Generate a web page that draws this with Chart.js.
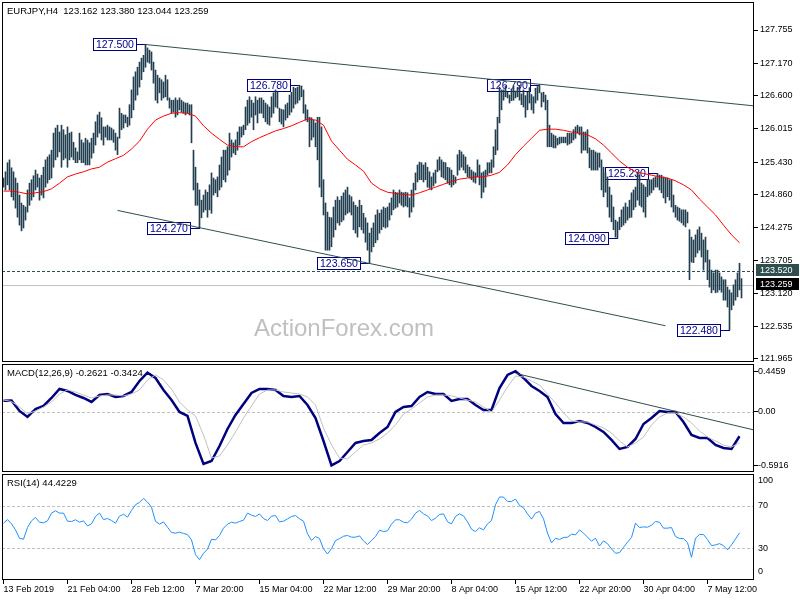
<!DOCTYPE html>
<html><head><meta charset="utf-8">
<script src="https://cdn.jsdelivr.net/npm/chart.js@4.4.1/dist/chart.umd.min.js"></script>
<style>
html,body{margin:0;padding:0;background:#fff;}
#wrap{position:relative;width:800px;height:600px;background:#fff;overflow:hidden;}
#wrap canvas{position:absolute;left:0;}
</style></head><body>
<div id="wrap">
<canvas id="pricePanel" width="800" height="364" style="top:0px"></canvas>
<canvas id="macdPanel" width="800" height="110" style="top:363px"></canvas>
<canvas id="rsiPanel" width="800" height="127" style="top:473px"></canvas>
</div>
<script>
// ---------------- DATA ----------------
const symbol = 'EURJPY,H4';
const lastBarOHLC = [123.162, 123.380, 123.044, 123.259];

const barHighs = [
125.15,125.26,125.42,125.47,125.33,125.26,125.15,125.06,124.85,124.71,
124.67,124.64,124.94,125.06,125.12,125.19,125.29,125.22,125.15,125.20,
125.34,125.47,125.52,125.56,125.64,125.94,126.03,126.08,125.96,126.08,
126.00,125.91,126.05,125.94,125.96,125.78,125.68,125.61,125.94,125.82,
125.77,125.85,125.82,125.77,125.85,125.94,126.14,126.26,126.31,126.21,
126.05,126.05,126.08,126.05,126.03,126.00,125.94,125.87,126.38,126.29,
126.26,126.26,126.22,126.44,126.70,126.93,127.02,127.10,127.19,127.26,
127.31,127.50,127.44,127.40,127.37,127.19,127.05,126.96,126.91,126.88,
126.84,126.96,126.88,126.56,126.52,126.52,126.56,126.52,126.56,126.52,
126.49,126.47,126.47,126.44,126.44,125.64,125.34,125.06,124.94,124.76,
124.85,124.94,124.90,125.03,125.24,125.15,125.12,125.17,125.38,125.52,
125.64,125.64,125.70,125.94,125.82,125.77,125.82,125.96,126.05,126.05,
126.08,126.40,126.52,126.58,126.52,126.47,126.58,126.52,126.56,126.56,
126.52,126.47,126.44,126.40,126.58,126.65,126.70,126.66,126.38,126.36,
126.35,126.44,126.47,126.61,126.66,126.75,126.73,126.75,126.78,126.77,
126.70,126.44,126.35,126.22,126.21,126.17,126.12,126.22,126.22,126.05,
125.12,124.71,124.55,124.46,124.45,124.64,124.76,124.82,124.76,124.83,
124.89,124.94,124.99,124.85,124.82,124.73,124.67,124.64,124.76,124.67,
124.53,124.45,124.36,124.18,124.27,124.36,124.50,124.59,124.53,124.59,
124.64,124.62,124.64,124.71,124.80,124.94,124.90,124.89,124.94,124.90,
124.89,124.90,124.89,124.80,124.94,125.06,125.24,125.38,125.43,125.42,
125.38,125.42,125.34,125.26,125.17,125.24,125.29,125.47,125.52,125.47,
125.43,125.42,125.34,125.33,125.29,125.20,125.17,125.56,125.64,125.61,
125.56,125.52,125.38,125.34,125.29,125.26,125.24,125.47,125.38,125.24,
125.26,125.29,125.42,125.42,125.47,125.70,126.00,126.22,126.75,126.70,
126.70,126.77,126.66,126.61,126.72,126.77,126.68,126.74,126.78,126.63,
126.70,126.60,126.66,126.74,126.62,126.58,126.73,126.76,126.79,126.65,
126.66,126.61,126.52,126.08,125.94,125.91,125.89,125.85,125.87,125.87,
125.87,125.87,125.94,125.94,125.94,126.00,126.05,126.08,126.05,126.05,
125.96,125.96,126.00,125.68,125.64,125.64,125.61,125.59,125.59,125.47,
125.34,125.24,125.17,124.99,124.85,124.64,124.41,124.38,124.46,124.59,
124.64,124.71,124.64,124.76,124.89,124.94,124.99,125.24,125.20,125.06,
125.03,124.99,125.12,125.12,125.12,125.15,125.17,125.23,125.20,125.20,
125.17,125.15,125.15,125.12,125.12,124.85,124.67,124.64,124.62,124.59,
124.59,124.59,124.55,124.24,124.11,124.06,124.15,124.24,124.29,124.18,
124.06,124.11,123.88,123.71,123.53,123.48,123.53,123.53,123.48,123.41,
123.36,123.36,123.23,123.18,123.13,123.27,123.36,123.48,123.65,123.38
];
const barLows = [
124.99,124.94,125.03,124.94,124.82,124.76,124.62,124.46,124.32,124.22,
124.27,124.41,124.55,124.67,124.76,124.82,124.94,124.99,124.76,124.85,
124.80,124.99,125.06,125.12,125.15,125.34,125.47,125.52,125.61,125.34,
125.47,125.50,125.34,125.47,125.52,125.47,125.42,125.42,125.47,125.42,
125.42,125.38,125.38,125.38,125.50,125.59,125.73,125.87,125.94,125.82,
125.73,125.87,125.82,125.82,125.82,125.78,125.64,125.56,125.85,126.00,
126.03,126.12,126.05,126.08,126.21,126.35,126.52,126.61,126.75,126.88,
127.02,127.10,127.19,127.17,127.05,126.82,126.52,126.47,126.65,126.52,
126.56,126.58,126.52,126.38,126.29,126.31,126.22,126.26,126.35,126.31,
126.29,126.26,126.29,126.26,125.77,124.94,124.67,124.67,124.27,124.45,
124.55,124.59,124.46,124.59,124.53,124.85,124.89,124.82,124.94,124.99,
125.12,125.08,125.20,125.29,125.52,125.59,125.56,125.64,125.73,125.87,
125.91,126.00,126.08,126.12,126.22,126.00,126.26,126.12,126.29,126.29,
126.21,126.14,126.10,126.08,126.22,126.29,126.40,126.38,126.14,126.10,
126.05,126.17,126.21,126.26,126.31,126.38,126.45,126.47,126.52,126.58,
126.29,126.17,126.14,125.70,125.82,125.87,125.70,125.47,124.99,124.82,
124.50,123.88,123.88,123.88,123.94,124.11,124.24,124.36,124.32,124.38,
124.41,124.50,124.53,124.55,124.50,124.24,124.18,124.11,124.29,124.24,
124.18,124.02,123.88,123.65,123.85,123.94,124.01,124.06,124.18,124.24,
124.29,124.27,124.29,124.41,124.50,124.59,124.62,124.64,124.71,124.67,
124.64,124.66,124.64,124.46,124.55,124.64,124.94,125.08,125.12,125.12,
125.08,125.12,124.99,124.97,124.94,125.01,125.06,125.26,125.29,125.17,
125.15,125.12,125.06,125.03,124.99,125.03,125.06,125.20,125.29,125.34,
125.29,125.24,125.17,125.15,125.12,125.08,125.06,125.17,125.03,124.80,
124.90,124.99,125.20,125.24,125.24,125.34,125.56,125.64,126.12,126.35,
126.52,126.58,126.56,126.47,126.51,126.52,126.56,126.58,126.52,126.44,
126.40,126.22,126.35,126.47,126.35,126.29,126.47,126.52,126.65,126.40,
126.49,126.35,125.70,125.70,125.70,125.68,125.68,125.73,125.75,125.77,
125.77,125.77,125.73,125.75,125.77,125.82,125.85,125.94,125.91,125.59,
125.64,125.64,125.59,125.33,125.29,125.29,125.29,125.29,125.34,124.94,
124.82,124.90,124.64,124.46,124.38,124.24,124.11,124.09,124.24,124.29,
124.32,124.36,124.41,124.45,124.46,124.59,124.64,124.76,124.67,124.64,
124.55,124.46,124.82,124.85,124.89,124.94,124.99,124.99,124.94,124.89,
124.80,124.71,124.82,124.76,124.64,124.55,124.46,124.41,124.39,124.36,
124.32,124.29,124.36,123.36,123.67,123.66,123.76,123.83,123.88,123.76,
123.53,123.67,123.36,123.23,123.13,123.18,123.13,123.14,123.18,123.14,
123.00,123.00,122.88,122.48,122.83,122.91,123.00,123.06,123.18,123.04
];

// moving average, one reading every maStep bars
const maStep = 4;
const maValues = [
124.92,124.92,124.90,124.87,124.89,124.91,124.96,125.06,125.17,125.22,
125.26,125.31,125.34,125.43,125.49,125.55,125.66,125.80,126.01,126.17,
126.24,126.29,126.30,126.29,126.24,126.07,125.94,125.83,125.73,125.70,
125.70,125.79,125.86,125.92,125.98,126.02,126.07,126.13,126.19,126.17,
126.08,125.80,125.64,125.48,125.38,125.27,125.06,124.96,124.90,124.88,
124.86,124.85,124.89,124.94,124.99,125.04,125.09,125.13,125.15,125.17,
125.17,125.20,125.25,125.38,125.56,125.71,125.85,125.99,126.01,126.01,
125.99,125.96,125.94,125.91,125.84,125.73,125.59,125.45,125.34,125.26,
125.23,125.20,125.17,125.15,125.10,125.03,124.94,124.78,124.64,124.50,
124.32,124.15,124.01
];

// MACD(12,26,9), one reading every macdStep bars
const macdStep = 4;
const macdMain = [
0.121,0.123,0.008,-0.058,0.030,0.063,0.151,0.250,0.228,0.184,
0.151,0.107,0.184,0.195,0.162,0.173,0.217,0.338,0.430,0.371,
0.239,0.129,-0.003,-0.047,-0.344,-0.575,-0.542,-0.377,-0.190,-0.036,
0.085,0.206,0.250,0.250,0.239,0.173,0.162,0.173,0.074,-0.069,
-0.322,-0.590,-0.542,-0.443,-0.344,-0.322,-0.311,-0.234,-0.168,-0.003,
0.052,0.063,0.162,0.217,0.195,0.195,0.118,0.140,0.140,0.074,
0.019,0.019,0.261,0.404,0.446,0.371,0.283,0.228,0.162,-0.025,
-0.124,-0.124,-0.102,-0.124,-0.168,-0.223,-0.311,-0.410,-0.388,-0.300,
-0.135,-0.069,0.008,-0.003,-0.003,-0.113,-0.256,-0.289,-0.289,-0.366,
-0.399,-0.410,-0.270
];
const macdSignal = [
0.129,0.112,0.052,-0.025,0.008,0.052,0.107,0.195,0.239,0.217,
0.184,0.151,0.173,0.184,0.184,0.173,0.195,0.239,0.349,0.404,
0.349,0.250,0.107,0.019,-0.047,-0.256,-0.509,-0.487,-0.366,-0.223,
-0.069,0.063,0.195,0.239,0.239,0.217,0.206,0.195,0.162,0.074,
-0.179,-0.366,-0.509,-0.520,-0.443,-0.366,-0.344,-0.300,-0.234,-0.146,
-0.025,0.030,0.096,0.162,0.184,0.184,0.173,0.151,0.129,0.107,
0.052,-0.003,0.129,0.272,0.393,0.382,0.338,0.294,0.195,0.096,
-0.014,-0.102,-0.113,-0.113,-0.146,-0.179,-0.234,-0.322,-0.388,-0.344,
-0.278,-0.146,-0.058,-0.014,-0.014,-0.058,-0.124,-0.212,-0.278,-0.322,
-0.366,-0.388,-0.342
];
const macdLast = [-0.2621, -0.3424];

// RSI(14), one reading every rsiStep bars
const rsiStep = 2;
const rsiValues = [
53.6,57.0,53.0,47.3,39.4,38.5,49.5,55.8,59.0,54.5,
54.0,55.8,63.1,65.3,63.1,63.1,55.5,55.2,56.8,54.5,
55.8,51.0,53.0,59.9,63.1,57.0,58.0,56.1,53.6,60.2,
62.1,59.3,65.6,71.0,73.2,77.0,73.5,68.7,55.2,52.7,
54.9,49.8,44.8,44.2,45.1,43.9,42.9,37.8,23.9,19.2,
25.2,29.0,38.5,37.8,42.0,48.9,52.7,54.5,53.6,55.2,
56.4,63.1,61.2,59.9,62.4,58.0,56.1,60.2,60.8,54.9,
55.5,57.7,59.9,60.8,57.7,55.5,43.6,37.2,41.0,39.1,
29.3,24.6,29.6,37.2,39.1,41.3,42.0,40.4,40.4,41.6,
36.9,33.4,37.2,41.0,47.0,45.7,46.4,52.7,56.8,56.8,
54.5,54.0,57.4,63.1,65.6,62.4,60.5,56.1,58.4,61.8,
62.4,54.9,53.0,59.9,62.4,60.5,54.9,47.9,45.7,49.2,
47.3,53.0,56.1,71.0,78.3,78.3,74.1,74.1,76.3,70.3,
68.1,62.4,57.4,63.1,64.7,57.7,44.2,35.0,39.4,38.2,
40.1,40.4,43.2,42.6,47.3,44.2,40.4,36.6,39.4,32.1,
36.9,34.3,29.3,25.2,25.8,30.9,35.6,40.1,53.6,49.5,
50.1,49.8,51.7,55.2,54.5,48.9,48.9,49.5,41.0,39.1,
39.1,35.3,21.4,39.4,42.9,42.9,38.2,32.4,33.1,34.3,
32.4,28.4,33.1,38.8,44.4
];
const rsiLast = 44.4229;

const priceTicks = [127.755,127.170,126.600,126.015,125.430,124.860,124.275,123.705,123.120,122.535,121.965];
const macdTicks = [0.4459, 0, -0.5916];
const rsiTicks = [100, 70, 30, 0];
const rsiLevels = [70, 30];
const timeTickBars = [0,32,64,96,128,160,192,224,256,288,320,352];
const timeLabels = ['13 Feb 2019','21 Feb 04:00','28 Feb 12:00','7 Mar 20:00','15 Mar 04:00','22 Mar 12:00',
  '29 Mar 20:00','8 Apr 04:00','15 Apr 12:00','22 Apr 20:00','30 Apr 04:00','7 May 12:00'];

const swingBars   = [71, 98, 148, 183, 268, 307, 327, 363];
const swingPrices = [127.500, 124.270, 126.780, 123.650, 126.790, 124.090, 125.230, 122.480];
const askPrice = 123.520;
const bidPrice = 123.259;
const upperTrend = [[71, 127.50], [375.25, 126.42]];
const lowerTrend = [[57, 124.58], [331, 122.55]];
const macdTrend  = [[256, 0.422], [375.25, -0.201]];
const watermark = 'ActionForex.com';

// ---------------- STYLE / LAYOUT ----------------
const FONT = '"Liberation Sans", Arial, sans-serif';
Chart.defaults.font.family = FONT;
Chart.defaults.font.size = 9;
Chart.defaults.color = '#000';
const XMIN = -0.75, XMAX = 375.25;
const BAR_COLOR = '#213f4f';
const SLATE = '#2f4f4f';

function zeroPad(s) { s.paddingTop = 0; s.paddingBottom = 0; s.paddingLeft = 0; s.paddingRight = 0; }
function xAxis(extra) {
  return Object.assign({type:'linear', min:XMIN, max:XMAX, bounds:'data', offset:false,
    display:false, grid:{offset:false}}, extra || {});
}
function rightAxis(min, max, extra) {
  return Object.assign({type:'linear', position:'right', min, max, bounds:'data', beginAtZero:false,
    afterFit(s){ s.width = 46; zeroPad(s); }, border:{display:false}}, extra);
}
function frame(ctx, a) {
  ctx.save(); ctx.strokeStyle = '#000'; ctx.lineWidth = 1;
  ctx.strokeRect(a.left + 0.5, a.top + 0.5, a.right - a.left - 1, a.bottom - a.top - 1);
  ctx.restore();
}
function hLine(ctx, a, py, color, dash) {
  ctx.save(); ctx.strokeStyle = color; ctx.lineWidth = 1; ctx.setLineDash(dash || []);
  ctx.beginPath(); ctx.moveTo(a.left, Math.round(py) + 0.5); ctx.lineTo(a.right, Math.round(py) + 0.5); ctx.stroke();
  ctx.restore();
}
function caption(ctx, a, text) {
  ctx.save(); ctx.font = '9.5px ' + FONT; ctx.fillStyle = '#000';
  ctx.textAlign = 'left'; ctx.textBaseline = 'middle';
  ctx.fillText(text, a.left + 5, a.top + 9);
  ctx.restore();
}
function lineSet(points, color, width, xs) {
  return {type:'line', data: points.map((v, k) => ({x: xs(k), y: v})), borderColor: color,
    borderWidth: width, pointRadius: 0, tension: 0, fill: false};
}
function segSet(seg, color) {
  return {type:'line', data: seg.map(p => ({x: p[0], y: p[1]})), borderColor: color,
    borderWidth: 1, pointRadius: 0, tension: 0, fill: false};
}
const common = {responsive:false, maintainAspectRatio:false, animation:false, devicePixelRatio:1, events:[],
  plugins:{legend:{display:false}, tooltip:{enabled:false}}};

// ---------------- PRICE PANEL ----------------
const pricePlugin = {
  id: 'pricePlugin',
  beforeDatasetsDraw(chart) {
    const {ctx, chartArea: a, scales: {x, y}} = chart;
    ctx.save();
    ctx.font = '24px ' + FONT; ctx.fillStyle = '#c0c0c0'; ctx.textAlign = 'center'; ctx.textBaseline = 'middle';
    ctx.fillText(watermark, 344, 329);
    ctx.restore();
    hLine(ctx, a, y.getPixelForValue(bidPrice), '#c0c0c0');
    hLine(ctx, a, y.getPixelForValue(askPrice), SLATE, [3, 2]);
    // swing labels
    ctx.save();
    ctx.font = '10.5px ' + FONT; ctx.textBaseline = 'middle'; ctx.textAlign = 'left';
    ctx.strokeStyle = '#000080'; ctx.fillStyle = '#000090'; ctx.lineWidth = 1;
    swingBars.forEach((b, i) => {
      const px = Math.round(x.getPixelForValue(b));
      const py = Math.round(y.getPixelForValue(swingPrices[i]));
      const txt = swingPrices[i].toFixed(3);
      const w = Math.ceil(ctx.measureText(txt).width) + 5;
      const right = px - 10, left = right - w;
      ctx.strokeRect(left + 0.5, py - 6 + 0.5, w, 12);
      ctx.beginPath(); ctx.moveTo(right, py + 0.5); ctx.lineTo(px, py + 0.5); ctx.stroke();
      ctx.fillText(txt, left + 3, py + 1);
    });
    ctx.restore();
  },
  afterDraw(chart) {
    const {ctx, chartArea: a, scales: {y}} = chart;
    frame(ctx, a);
    caption(ctx, a, symbol + '  ' + lastBarOHLC.map(v => v.toFixed(3)).join(' '));
    ctx.save();
    ctx.font = '9px ' + FONT; ctx.textBaseline = 'middle'; ctx.textAlign = 'left';
    [[askPrice, SLATE], [bidPrice, '#000']].forEach(([p, bg]) => {
      const py = Math.round(y.getPixelForValue(p)) - 1;
      ctx.fillStyle = bg; ctx.fillRect(a.right + 2, py - 6, 43, 12);
      ctx.fillStyle = '#fff'; ctx.fillText(p.toFixed(3), a.right + 6, py + 0.5);
    });
    ctx.restore();
  }
};

new Chart(document.getElementById('pricePanel'), {
  type: 'bar',
  data: { datasets: [
    lineSet(maValues, '#ff0000', 1, k => k * maStep),
    {type:'bar', data: barHighs.map((h, i) => ({x: i, y: [barLows[i], h]})), backgroundColor: BAR_COLOR,
      borderWidth: 0, barThickness: 1, grouped: false},
    segSet(upperTrend, SLATE),
    segSet(lowerTrend, SLATE)
  ]},
  options: Object.assign({}, common, {
    layout: {padding: {left: 2, right: 0, top: 2, bottom: 2}, autoPadding: false},
    scales: {
      x: xAxis(),
      y: rightAxis(121.912, 128.248, {
        afterBuildTicks(s){ s.ticks = priceTicks.map(v => ({value: v})); },
        ticks: {callback: v => v.toFixed(3), crossAlign: 'near', padding: 2, autoSkip: false},
        grid: {drawOnChartArea: false, tickLength: 4, color: '#000'}
      })
    }
  }),
  plugins: [pricePlugin]
});

// ---------------- MACD PANEL ----------------
const macdPlugin = {
  id: 'macdPlugin',
  beforeDatasetsDraw(chart) {
    const {ctx, chartArea: a, scales: {y}} = chart;
    hLine(ctx, a, y.getPixelForValue(0), '#c0c0c0', [3, 2]);
  },
  afterDraw(chart) {
    const {ctx, chartArea: a} = chart;
    frame(ctx, a);
    caption(ctx, a, 'MACD(12,26,9) ' + macdLast.map(v => v.toFixed(4)).join(' '));
  }
};
new Chart(document.getElementById('macdPanel'), {
  type: 'line',
  data: { datasets: [
    segSet(macdTrend, SLATE),
    lineSet(macdSignal, '#c0c0c0', 1, k => k * macdStep),
    lineSet(macdMain, '#000080', 2.5, k => k * macdStep)
  ]},
  options: Object.assign({}, common, {
    layout: {padding: {left: 2, right: 0, top: 1, bottom: 1}, autoPadding: false},
    scales: {
      x: xAxis(),
      y: rightAxis(-0.6633, 0.5247, {
        afterBuildTicks(s){ s.ticks = macdTicks.map(v => ({value: v})); },
        ticks: {callback: v => (v === 0 ? '0.00' : v.toFixed(4)), crossAlign: 'near', padding: 0, autoSkip: false},
        grid: {drawOnChartArea: false, tickLength: 4, color: '#000'}
      })
    }
  }),
  plugins: [macdPlugin]
});

// ---------------- RSI PANEL ----------------
const rsiPlugin = {
  id: 'rsiPlugin',
  beforeDatasetsDraw(chart) {
    const {ctx, chartArea: a, scales: {y}} = chart;
    rsiLevels.forEach(v => hLine(ctx, a, y.getPixelForValue(v), '#c0c0c0', [3, 2]));
  },
  afterDraw(chart) {
    const {ctx, chartArea: a, scales: {y}} = chart;
    frame(ctx, a);
    caption(ctx, a, 'RSI(14) ' + rsiLast.toFixed(4));
    ctx.save();
    ctx.font = '9px ' + FONT; ctx.fillStyle = '#000'; ctx.textAlign = 'left'; ctx.textBaseline = 'middle';
    rsiTicks.forEach(v => {
      let py = y.getPixelForValue(v);
      py = Math.min(Math.max(py, a.top + 7), a.bottom - 8);
      ctx.fillText(String(v), a.right + 4, py);
    });
    ctx.restore();
  }
};
new Chart(document.getElementById('rsiPanel'), {
  type: 'line',
  data: { datasets: [ lineSet(rsiValues, '#1e90ff', 1, k => k * rsiStep) ]},
  options: Object.assign({}, common, {
    layout: {padding: {left: 2, right: 0, top: 1, bottom: 0}, autoPadding: false},
    scales: {
      x: xAxis({display: true, position: 'bottom',
        afterBuildTicks(s){ s.ticks = timeTickBars.map(v => ({value: v})); },
        afterFit(s){ s.height = 20; zeroPad(s); },
        ticks: {callback: (v, i) => timeLabels[i], align: 'start', autoSkip: false, maxRotation: 0, minRotation: 0, padding: 0},
        grid: {drawOnChartArea: false, tickLength: 4, color: '#000', offset: false},
        border: {display: false}
      }),
      y: rightAxis(0, 100, {ticks: {display: false}, grid: {display: false}})
    }
  }),
  plugins: [rsiPlugin]
});
</script>
</body></html>
